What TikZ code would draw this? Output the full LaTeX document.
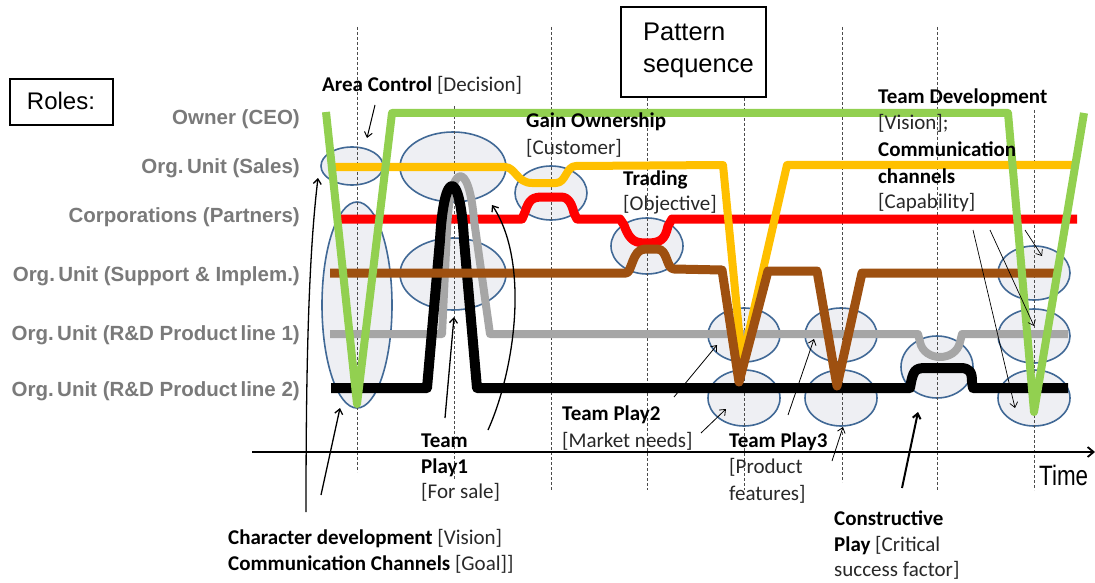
\documentclass[tikz,border=0pt]{standalone}
\usepackage{fontspec}
\setmainfont{Carlito}
\newfontfamily\arialf{Liberation Sans}
\usetikzlibrary{shapes.geometric,arrows.meta}
\definecolor{cgreen}{RGB}{146,208,80}
\definecolor{cyellow}{RGB}{255,192,0}
\definecolor{cred}{RGB}{255,0,0}
\definecolor{cbrown}{RGB}{158,80,16}
\definecolor{cgray}{RGB}{166,166,166}
\definecolor{rolegray}{RGB}{122,122,122}
\definecolor{ellblue}{RGB}{65,105,150}
\definecolor{ellfill}{RGB}{238,239,243}
\definecolor{txtgray}{RGB}{40,40,40}
\begin{document}
\begin{tikzpicture}[x=1pt,y=-1pt,
  role/.style={anchor=base east,inner sep=0pt,text=rolegray,font=\arialf\bfseries\fontsize{20.5}{24}\selectfont},
  lbl/.style={anchor=base west,inner sep=0pt,text=txtgray,font=\fontsize{21}{26}\selectfont},
  ell/.style={ellipse,draw=ellblue,fill=ellfill,line width=1.6pt,inner sep=0pt},
  vdash/.style={draw=black!70,line width=0.8pt,dash pattern=on 3pt off 2pt},
  track/.style={line join=round,line cap=butt},
  arr/.style={draw=black,line width=1pt,-{Straight Barb[length=5pt,width=8pt]}}]
\useasboundingbox (0,0) rectangle (1095,583);
\fill[white] (0,0) rectangle (1095,583);

% title boxes
\draw[line width=1.8pt] (10,79) rectangle (113,125);
\node[anchor=base,inner sep=0pt,font=\arialf\fontsize{24}{28}\selectfont] (roles) at (61,110) {Roles:};
\draw[line width=1.8pt] (621,7) rectangle (766,97);
\node[anchor=base west,inner sep=0pt,font=\arialf\fontsize{25.5}{32}\selectfont] (pat1) at (643,41) {Pattern};
\node[anchor=base west,inner sep=0pt,font=\arialf\fontsize{25.5}{32}\selectfont] (pat2) at (643,73) {sequence};

% role labels
\node[role] (rOwner) at (300,125) {Owner (CEO)};
\node[role] (rSales) at (300,174) {Org.\,Unit (Sales)};
\node[role] (rPart) at (300,222) {Corporations (Partners)};
\node[role] (rSupp) at (300,281) {Org.\,Unit (Support \& Implem.)};
\node[role] (rRD1) at (300,340) {Org.\,Unit (R\&D Product\,line 1)};
\node[role] (rRD2) at (300,396) {Org.\,Unit (R\&D Product\,line 2)};

% ellipses
\node[ell,minimum width=62pt,minimum height=38pt] (e1) at (352,166) {};
\node[ell,minimum width=70pt,minimum height=206pt] (e2) at (357,305) {};
\node[ell,minimum width=106pt,minimum height=70pt] (e3) at (453,167) {};
\node[ell,minimum width=106pt,minimum height=72pt] (e4) at (453,274) {};
\node[ell,minimum width=72pt,minimum height=54pt] (e5) at (551,193) {};
\node[ell,minimum width=72pt,minimum height=56pt] (e6) at (647,246) {};
\node[ell,minimum width=72pt,minimum height=54pt] (e7) at (744,335) {};
\node[ell,minimum width=72pt,minimum height=56pt] (e8) at (744,398) {};
\node[ell,minimum width=72pt,minimum height=54pt] (e9) at (841,335) {};
\node[ell,minimum width=72pt,minimum height=56pt] (e10) at (841,398) {};
\node[ell,minimum width=72pt,minimum height=62pt] (e11) at (937,367) {};
\node[ell,minimum width=72pt,minimum height=54pt] (e12) at (1034,273) {};
\node[ell,minimum width=72pt,minimum height=54pt] (e13) at (1034,336) {};
\node[ell,minimum width=72pt,minimum height=56pt] (e14) at (1034,398) {};

% dashed time marks
\draw[vdash] (357,27) -- (357,472);
\draw[vdash] (454,106) -- (454,480);
\draw[vdash] (551,27) -- (551,490);
\draw[vdash] (647,98) -- (647,490);
\draw[vdash] (744,98) -- (744,490);
\draw[vdash] (842,27) -- (842,482);
\draw[vdash] (937,27) -- (937,490);
\draw[vdash] (1034,110) -- (1034,490);

% role tracks
\draw[track,draw=cred,line width=9pt] (338,219) -- (522,219) -- (525,212) .. controls (529,199) and (533,197) .. (543,197) -- (561,197) .. controls (569,197) and (572,205) .. (574,213) -- (577,219) -- (620,219) -- (624,225) .. controls (630,242) and (636,243) .. (647,243) .. controls (660,243) and (665,240) .. (668,226) -- (672,219) -- (1077,219);
\draw[track,draw=cgray,line width=8pt] (330,334) -- (442,334) -- (447,230) .. controls (450,160) and (469,160) .. (474,220) -- (490,334) -- (918,334) -- (920,342) .. controls (924,362) and (956,362) .. (960,342) -- (962,334) -- (1068,334);
\draw[track,draw=black,line width=10pt] (331,388) -- (427,388) -- (440,240) .. controls (444,168) and (460,168) .. (464,240) -- (477,388) -- (910,388) .. controls (913,370) and (915,368) .. (926,368) -- (960,368) .. controls (970,368) and (972,372) .. (972,382) -- (973,388) -- (1068,388);
\draw[track,draw=cyellow,line width=8pt] (332,167) -- (505,167) .. controls (515,167) and (517,183) .. (532,183) -- (556,183) .. controls (566,183) and (566,166) .. (576,166) -- (723,165) -- (742,362) -- (787,165) -- (1073,165);
\draw[track,draw=cbrown,line width=9pt] (330,273) -- (626,273) .. controls (632,273) and (632,249) .. (645,249) -- (657,249) .. controls (668,249) and (666,269) .. (674,269) -- (722,270) -- (739,382) -- (768,271) -- (817,271) -- (837,386) -- (862,273) -- (1058,273);
\draw[track,draw=cgreen,line width=8pt] (326,112) -- (357,404) -- (392,113) -- (1008,113) -- (1034,412) -- (1084,113);

% axis
\coordinate (ax0) at (252,452);
\coordinate (ax1) at (1095,452);
\draw[line width=1.8pt,-{Straight Barb[length=6pt,width=10pt]}] (ax0) -- (ax1);
\node[anchor=base west,inner sep=0pt,font=\arialf\fontsize{28}{30}\selectfont] (time) at (1039,485) {\scalebox{0.8}[1]{Time}};

% labels
\node[lbl] (area) at (322,92) {\textcolor{black}{\textbf{Area Control}} [Decision]};
\node[lbl] (gain1) at (526,128) {\textcolor{black}{\textbf{Gain Ownership}}};
\node[lbl] (gain2) at (526,155) {[Customer]};
\node[lbl] (trad1) at (623,185) {\textcolor{black}{\textbf{Trading}}};
\node[lbl] (trad2) at (623,210) {[Objective]};
\node[lbl] (td1) at (878,104) {\textcolor{black}{\textbf{Team Development}}};
\node[lbl] (td2) at (878,130) {[Vision];};
\node[lbl] (td3) at (878,157) {\textcolor{black}{\textbf{Communication}}};
\node[lbl] (td4) at (878,183) {\textcolor{black}{\textbf{channels}}};
\node[lbl] (td5) at (878,208) {[Capability]};
\node[lbl] (tp1a) at (421,447) {\textcolor{black}{\textbf{Team}}};
\node[lbl] (tp1b) at (421,473) {\textcolor{black}{\textbf{Play1}}};
\node[lbl] (tp1c) at (421,498) {[For sale]};
\node[lbl] (tp2a) at (562,420) {\textcolor{black}{\textbf{Team Play2}}};
\node[lbl] (tp2b) at (562,447) {[Market needs]};
\node[lbl] (tp3a) at (729,447) {\textcolor{black}{\textbf{Team Play3}}};
\node[lbl] (tp3b) at (729,473) {[Product};
\node[lbl] (tp3c) at (729,500) {features]};
\node[lbl] (cd1) at (228,544) {\textcolor{black}{\textbf{Character development}} [Vision]};
\node[lbl] (cd2) at (228,570) {\textcolor{black}{\textbf{Communication Channels}} [Goal]]};
\node[lbl] (cp1) at (834,525) {\textcolor{black}{\textbf{Constructive}}};
\node[lbl] (cp2) at (834,551) {\textcolor{black}{\textbf{Play}} [Critical};
\node[lbl] (cp3) at (834,576) {success factor]};

% annotation arrows
\coordinate (areaS) at (375,105);
\coordinate (cdS1) at (306,512);
\coordinate (cdS2) at (321,495);
\coordinate (tp1S1) at (445,418);
\coordinate (tp1S2) at (488,430);
\coordinate (tp2S1) at (674,397);
\coordinate (tp2S2) at (701,433);
\coordinate (tp3S1) at (788,415);
\coordinate (tp3S2) at (832,461);
\coordinate (cpS) at (902,488);
\coordinate (tdS1) at (973,230);
\coordinate (tdS2) at (990,230);
\coordinate (tdS3) at (1025,230);
\draw[arr] (areaS) -- ([shift={(15,-28)}]e1.center);
\draw[arr,line width=1.3pt] (cdS1) .. controls (306,380) and (308,260) .. ([shift={(-34,12)}]e1.center);
\draw[arr,line width=1.3pt] (cdS2) -- ([shift={(-17,103)}]e2.center);
\draw[arr,line width=1.3pt] (tp1S1) -- ([shift={(1,43)}]e4.center);
\draw[arr,line width=1.3pt] (tp1S2) .. controls (515,370) and (530,262) .. ([shift={(39,38)}]e3.center);
\draw[arr,line width=0.8pt] (tp2S1) -- ([shift={(-27,10)}]e7.center);
\draw[arr,line width=0.8pt] (tp2S2) -- ([shift={(-18,11)}]e8.center);
\draw[arr,line width=0.8pt] (tp3S1) -- ([shift={(-27,4)}]e9.center);
\draw[arr,line width=0.8pt] (tp3S2) -- ([shift={(2,29)}]e10.center);
\draw[arr,line width=2pt] (cpS) -- ([shift={(-19,45)}]e11.center);
\draw[arr,line width=0.7pt] (tdS1) -- ([shift={(-19,10)}]e14.center);
\draw[arr,line width=0.7pt] (tdS2) -- ([shift={(0,-10)}]e13.center);
\draw[arr,line width=0.7pt] (tdS3) -- ([shift={(8,-17)}]e12.center);
\end{tikzpicture}
\end{document}
